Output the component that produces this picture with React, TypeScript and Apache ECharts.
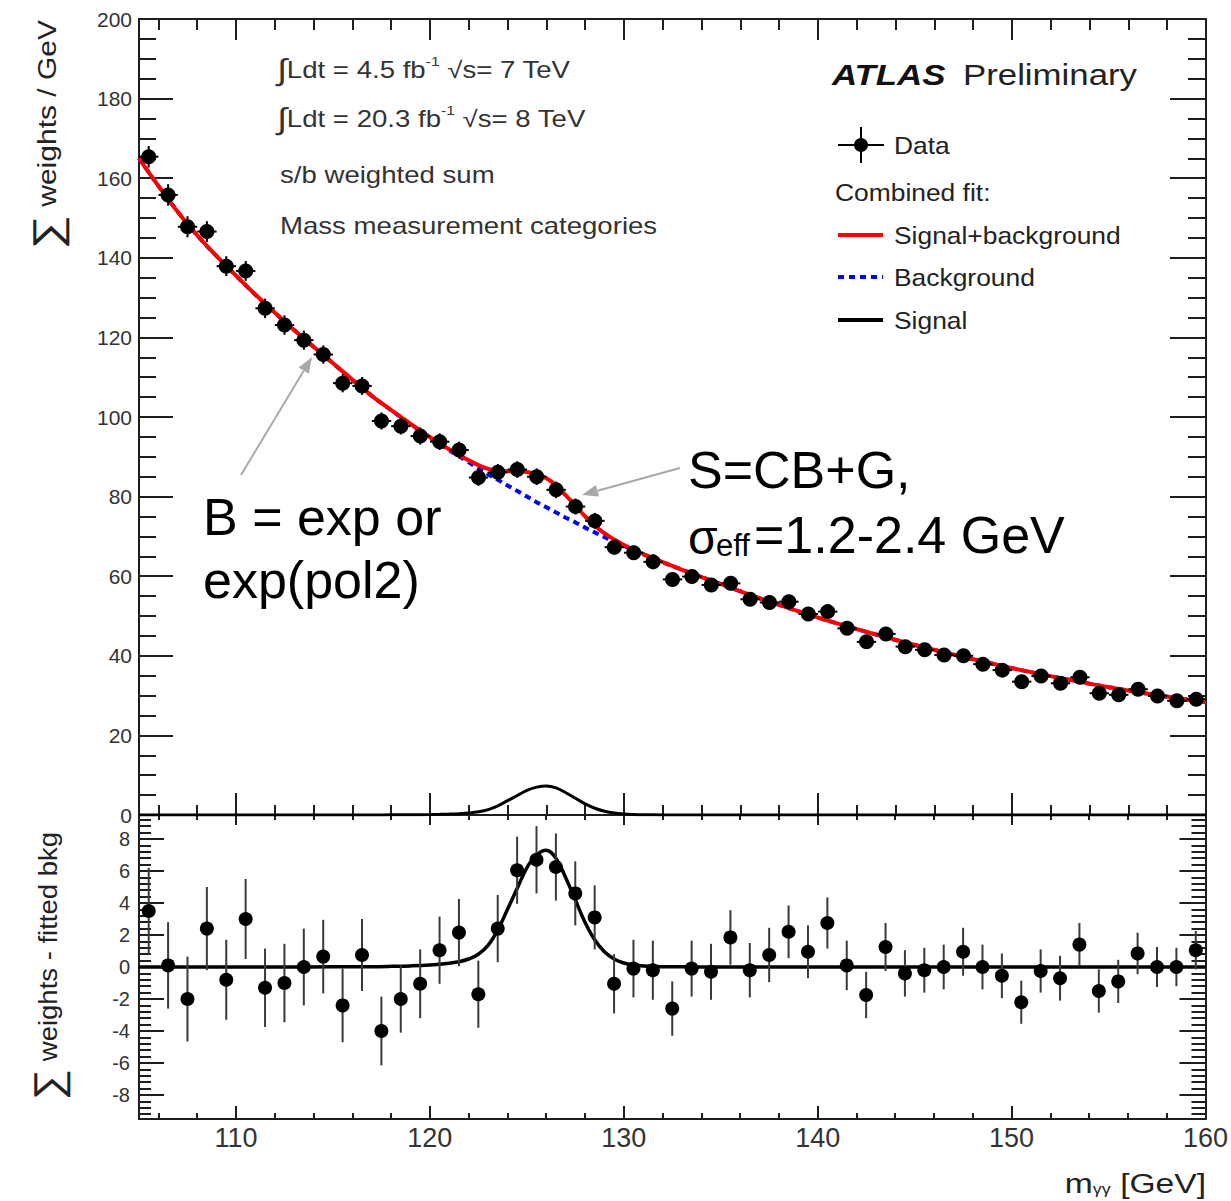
import React, { useEffect, useRef } from 'react';
import * as echarts from 'echarts';

// ---- data ----
const massBins = [
  105.5, 106.5, 107.5, 108.5, 109.5, 110.5, 111.5, 112.5, 113.5, 114.5,
  115.5, 116.5, 117.5, 118.5, 119.5, 120.5, 121.5, 122.5, 123.5, 124.5,
  125.5, 126.5, 127.5, 128.5, 129.5, 130.5, 131.5, 132.5, 133.5, 134.5,
  135.5, 136.5, 137.5, 138.5, 139.5, 140.5, 141.5, 142.5, 143.5, 144.5,
  145.5, 146.5, 147.5, 148.5, 149.5, 150.5, 151.5, 152.5, 153.5, 154.5,
  155.5, 156.5, 157.5, 158.5, 159.5,
];

const dataWeights = [
  165.4, 155.8, 147.8, 146.6, 137.9, 136.7, 127.3, 123.1, 119.3, 115.7,
  108.5, 107.8, 99.0, 97.7, 95.2, 93.8, 91.7, 84.8, 86.1, 86.8,
  85.0, 81.7, 77.5, 73.9, 67.3, 65.9, 63.6, 59.2, 59.9, 57.8,
  58.2, 54.2, 53.4, 53.6, 50.5, 51.1, 46.9, 43.5, 45.5, 42.3,
  41.5, 40.2, 40.0, 37.9, 36.4, 33.5, 34.9, 33.1, 34.6, 30.6,
  30.2, 31.6, 29.9, 28.7, 29.1,
];

const dataResiduals = [
  3.5, 0.1, -2.0, 2.4, -0.8, 3.0, -1.3, -1.0, 0.0, 0.65,
  -2.4, 0.75, -4.0, -2.0, -1.05, 1.05, 2.15, -1.7, 2.4, 6.05,
  6.7, 6.25, 4.6, 3.1, -1.05, -0.1, -0.2, -2.6, -0.1, -0.3,
  1.85, -0.2, 0.75, 2.2, 0.95, 2.75, 0.1, -1.75, 1.25, -0.4,
  -0.2, 0.0, 0.95, 0.0, -0.55, -2.2, -0.25, -0.7, 1.4, -1.5,
  -0.9, 0.85, 0.0, 0.0, 1.05,
];

const dataErrors = [
  2.7, 2.7, 2.65, 2.6, 2.5, 2.5, 2.45, 2.45, 2.4, 2.3,
  2.3, 2.25, 2.15, 2.1, 2.15, 2.1, 2.1, 2.1, 2.1, 2.1,
  2.1, 2.1, 2.0, 2.0, 1.85, 1.8, 1.85, 1.7, 1.75, 1.75,
  1.7, 1.7, 1.7, 1.65, 1.65, 1.6, 1.55, 1.45, 1.5, 1.45,
  1.4, 1.4, 1.5, 1.4, 1.4, 1.35, 1.35, 1.4, 1.35, 1.35,
  1.35, 1.3, 1.25, 1.2, 1.2,
];

const fitMass = [
  105, 107.5, 110, 112.5, 115,
  117, 118, 119, 120,
  120.5, 121, 121.5, 122, 122.5, 123, 123.5, 124, 124.5, 125, 125.5,
  126, 126.5, 127, 127.5, 128, 128.5, 129, 129.5, 130, 130.5, 131,
  132, 133,
  135, 137.5, 140, 142.5, 145, 147.5, 150, 152.5, 155, 157.5, 160,
];

const bkgFit = [
  165, 148.5, 135.5, 124, 113.5,
  105.3, 101.7, 98.2, 94.8,
  93.2, 91.6, 90.1, 88.6, 87.1, 85.6, 84.2, 82.8, 81.4, 80.0, 78.6,
  77.3, 76.0, 74.7, 73.5, 72.2, 71.0, 69.8, 68.7, 67.6, 66.5, 65.5,
  63.5, 61.6,
  58.0, 53.6, 49.6, 46.0, 42.7, 39.7, 36.9, 34.4, 32.1, 30.1, 28.3,
];

const sigFit = [
  0, 0, 0, 0, 0.01,
  0.02, 0.04, 0.07, 0.12,
  0.17, 0.24, 0.33, 0.5, 0.8, 1.35, 2.3, 3.6, 4.9, 6.2, 7.0,
  7.3, 6.8, 5.6, 4.2, 2.8, 1.7, 0.95, 0.5, 0.25, 0.12, 0.06,
  0.02, 0.01,
  0, 0, 0, 0, 0, 0, 0, 0, 0, 0, 0,
];

const FONT = '"Liberation Sans", Arial, Helvetica, sans-serif';
const AXIS_COLOR = '#1e1e1e';
const LABEL_COLOR = '#333';

function xAxisDef(grid: number, position: string, showLabel: boolean, tickLen: number, minorLen: number) {
  return {
    type: 'value',
    gridIndex: grid,
    position,
    min: 105,
    max: 160,
    splitNumber: 5,
    axisLine: { show: true, onZero: false, lineStyle: { color: AXIS_COLOR, width: 2 } },
    axisTick: { show: true, inside: true, length: tickLen, lineStyle: { color: AXIS_COLOR, width: 2 } },
    minorTick: { show: true, splitNumber: 5, length: minorLen, lineStyle: { color: AXIS_COLOR, width: 2 } },
    splitLine: { show: false },
    minorSplitLine: { show: false },
    axisLabel: showLabel
      ? { show: true, fontSize: 27, color: LABEL_COLOR, fontFamily: FONT, margin: 5, showMinLabel: false, showMaxLabel: true }
      : { show: false },
  };
}

function yAxisDef(grid: number, position: string, showLabel: boolean, tickLen: number, minorLen: number, bottomPanel: boolean) {
  const base: any = {
    type: 'value',
    gridIndex: grid,
    position,
    axisLine: { show: true, onZero: false, lineStyle: { color: AXIS_COLOR, width: 2 } },
    axisTick: { show: true, inside: true, length: tickLen, lineStyle: { color: AXIS_COLOR, width: 2 } },
    splitLine: { show: false },
    minorSplitLine: { show: false },
  };
  if (bottomPanel) {
    base.min = -9.5;
    base.max = 9.5;
    base.splitNumber = 9;
    base.minorTick = { show: true, splitNumber: 5, length: minorLen, lineStyle: { color: AXIS_COLOR, width: 2 } };
    base.axisLabel = showLabel
      ? { show: true, fontSize: 20, color: LABEL_COLOR, fontFamily: FONT, margin: 9, showMinLabel: false, showMaxLabel: false }
      : { show: false };
  } else {
    base.min = 0;
    base.max = 200;
    base.interval = 20;
    base.minorTick = { show: true, splitNumber: 4, length: minorLen, lineStyle: { color: AXIS_COLOR, width: 2 } };
    base.axisLabel = showLabel
      ? { show: true, fontSize: 21, color: LABEL_COLOR, fontFamily: FONT, margin: 7 }
      : { show: false };
  }
  return base;
}

function errorBarRenderer(withX: boolean, color: string) {
  return (params: any, api: any) => {
    const x = api.value(0);
    const y = api.value(1);
    const e = api.value(2);
    const top = api.coord([x, y + e]);
    const bot = api.coord([x, y - e]);
    const children: any[] = [
      { type: 'line', shape: { x1: top[0], y1: top[1], x2: bot[0], y2: bot[1] }, style: { stroke: color, lineWidth: 2 } },
    ];
    if (withX) {
      const l = api.coord([x - 0.5, y]);
      const r = api.coord([x + 0.5, y]);
      children.push({ type: 'line', shape: { x1: l[0], y1: l[1], x2: r[0], y2: r[1] }, style: { stroke: color, lineWidth: 2 } });
    }
    return { type: 'group', children };
  };
}

function txt(x: number, y: number, text: string, fontSize: number, o: any = {}) {
  return {
    type: 'text',
    x,
    y,
    scaleX: o.scaleX ?? 1,
    rotation: o.rotation ?? 0,
    silent: true,
    z: 100,
    style: {
      text,
      fontSize,
      fontFamily: FONT,
      fontWeight: o.fontWeight ?? 'normal',
      fontStyle: o.fontStyle ?? 'normal',
      fill: o.fill ?? '#222',
      align: o.align ?? 'left',
      verticalAlign: 'middle',
      rich: o.rich,
    },
  };
}

function seg(x1: number, y1: number, x2: number, y2: number, stroke: string, lineWidth: number, lineDash?: number[]) {
  return {
    type: 'line',
    silent: true,
    z: 100,
    shape: { x1, y1, x2, y2 },
    style: { stroke, lineWidth, lineDash },
  };
}

function arrow(x1: number, y1: number, x2: number, y2: number) {
  const dx = x2 - x1;
  const dy = y2 - y1;
  const L = Math.hypot(dx, dy);
  const ux = dx / L;
  const uy = dy / L;
  const px = -uy;
  const py = ux;
  const bx = x2 - ux * 16;
  const by = y2 - uy * 16;
  const c = '#a8a8a8';
  return [
    seg(x1, y1, bx, by, c, 2),
    {
      type: 'polygon',
      silent: true,
      z: 100,
      shape: { points: [[x2, y2], [bx + px * 6, by + py * 6], [bx - px * 6, by - py * 6]] },
      style: { fill: c },
    },
  ];
}

export default function App() {
  const ref = useRef<HTMLDivElement>(null);

  useEffect(() => {
    const chart = echarts.init(ref.current!, null, { renderer: 'svg' });

    const sub = { fontSize: 13, verticalAlign: 'top', fill: '#333', fontFamily: FONT };
    const integ = { fontSize: 30, fill: '#333', fontFamily: FONT };

    const graphic: any[] = [
      // top-left info block
      txt(277, 70, '{i|∫}Ldt = 4.5 fb{sup|-1} √s= 7 TeV', 23, { scaleX: 1.2, fill: '#333', rich: { i: integ, sup: sub } }),
      txt(277, 119, '{i|∫}Ldt = 20.3 fb{sup|-1} √s= 8 TeV', 23, { scaleX: 1.2, fill: '#333', rich: { i: integ, sup: sub } }),
      txt(280, 175, 's/b weighted sum', 23, { scaleX: 1.2, fill: '#333' }),
      txt(280, 226, 'Mass measurement categories', 23, { scaleX: 1.2, fill: '#333' }),
      // ATLAS label
      txt(832, 75, 'ATLAS', 29, { scaleX: 1.2, fontWeight: 'bold', fontStyle: 'italic', fill: '#111' }),
      txt(963, 75, 'Preliminary', 29, { scaleX: 1.2, fill: '#222' }),
      // legend
      seg(838, 145, 884, 145, '#000', 2),
      seg(861, 127, 861, 163, '#000', 2),
      { type: 'circle', silent: true, z: 100, shape: { cx: 861, cy: 145, r: 7 }, style: { fill: '#000' } },
      txt(894, 145, 'Data', 24, { scaleX: 1.1 }),
      txt(835, 192, 'Combined fit:', 24, { scaleX: 1.1 }),
      seg(838, 235, 883, 235, '#ff0000', 4),
      txt(894, 235, 'Signal+background', 24, { scaleX: 1.1 }),
      seg(838, 277, 883, 277, '#0000ff', 4, [6, 5]),
      txt(894, 277, 'Background', 24, { scaleX: 1.1 }),
      seg(838, 320, 883, 320, '#000', 4),
      txt(894, 320, 'Signal', 24, { scaleX: 1.1 }),
      // annotations
      txt(203, 517, 'B = exp or', 52, { fill: '#000' }),
      txt(203, 580, 'exp(pol2)', 52, { fill: '#000' }),
      txt(688, 470, 'S=CB+G,', 52, { fill: '#000' }),
      txt(688, 537, 'σ', 48, { fill: '#000' }),
      txt(716, 545, 'eff', 31, { fill: '#000' }),
      txt(754, 535, '=1.2-2.4 GeV', 52, { fill: '#000' }),
      ...arrow(241, 475, 312, 357),
      ...arrow(680, 468, 582, 495),
      // axis titles
      txt(47, 20, '{s|∑} weights / GeV', 25, {
        rotation: Math.PI / 2, align: 'right', scaleX: 1.2,
        rich: { s: { fontSize: 40, fill: '#222', fontFamily: FONT } },
      }),
      txt(48, 832, '{s|∑} weights - fitted bkg', 25, {
        rotation: Math.PI / 2, align: 'right', scaleX: 1.1,
        rich: { s: { fontSize: 40, fill: '#222', fontFamily: FONT } },
      }),
      txt(1206, 1183, 'm{g|γγ} [GeV]', 28, {
        align: 'right', scaleX: 1.2,
        rich: { g: { fontSize: 15, verticalAlign: 'bottom', fill: '#222', fontFamily: FONT } },
      }),
    ];

    const option: any = {
      animation: false,
      backgroundColor: '#fff',
      grid: [
        { left: 139, top: 19, width: 1067, height: 796 },
        { left: 139, top: 815, width: 1067, height: 304 },
      ],
      xAxis: [
        xAxisDef(0, 'bottom', false, 22, 10),
        xAxisDef(0, 'top', false, 21, 11),
        xAxisDef(1, 'bottom', true, 13, 6),
        xAxisDef(1, 'top', false, 10, 5),
      ],
      yAxis: [
        yAxisDef(0, 'left', true, 34, 17, false),
        yAxisDef(0, 'right', false, 36, 18, false),
        yAxisDef(1, 'left', true, 25, 12, true),
        yAxisDef(1, 'right', false, 26, 14, true),
      ],
      series: [
        {
          type: 'line', name: 'Background', xAxisIndex: 0, yAxisIndex: 0,
          data: fitMass.map((m, i) => [m, bkgFit[i]]),
          smooth: 0.4, showSymbol: false, silent: true, z: 2,
          lineStyle: { color: '#0000ff', width: 4, type: [6, 5] },
        },
        {
          type: 'line', name: 'Signal+background', xAxisIndex: 0, yAxisIndex: 0,
          data: fitMass.map((m, i) => [m, bkgFit[i] + sigFit[i]]),
          smooth: 0.4, showSymbol: false, silent: true, z: 3,
          lineStyle: { color: '#ff0000', width: 4 },
        },
        {
          type: 'line', name: 'Signal', xAxisIndex: 0, yAxisIndex: 0,
          data: fitMass.map((m, i) => [m, sigFit[i]]),
          smooth: 0.4, showSymbol: false, silent: true, z: 3,
          lineStyle: { color: '#000', width: 3 },
        },
        {
          type: 'custom', name: 'Data errors', xAxisIndex: 0, yAxisIndex: 0,
          data: massBins.map((m, i) => [m, dataWeights[i], dataErrors[i]]),
          encode: { x: 0, y: 1 }, renderItem: errorBarRenderer(true, '#000'), z: 4, silent: true,
        },
        {
          type: 'scatter', name: 'Data', xAxisIndex: 0, yAxisIndex: 0,
          data: massBins.map((m, i) => [m, dataWeights[i]]),
          symbol: 'circle', symbolSize: 15, itemStyle: { color: '#000', opacity: 1 }, z: 5, silent: true,
        },
        {
          type: 'line', name: 'Signal fit (residual)', xAxisIndex: 2, yAxisIndex: 2,
          data: fitMass.map((m, i) => [m, sigFit[i]]),
          smooth: 0.4, showSymbol: false, silent: true, z: 3,
          lineStyle: { color: '#000', width: 3.5 },
        },
        {
          type: 'custom', name: 'Residual errors', xAxisIndex: 2, yAxisIndex: 2,
          data: massBins.map((m, i) => [m, dataResiduals[i], dataErrors[i]]),
          encode: { x: 0, y: 1 }, renderItem: errorBarRenderer(false, '#3a3a3a'), z: 4, silent: true,
        },
        {
          type: 'scatter', name: 'Residuals', xAxisIndex: 2, yAxisIndex: 2,
          data: massBins.map((m, i) => [m, dataResiduals[i]]),
          symbol: 'circle', symbolSize: 14, itemStyle: { color: '#000', opacity: 1 }, z: 5, silent: true,
        },
      ],
      graphic,
    };

    chart.setOption(option);
    return () => chart.dispose();
  }, []);

  return (
    <div
      ref={ref}
      style={{ position: 'fixed', left: 0, top: 0, width: 1231, height: 1201, background: '#fff' }}
    />
  );
}
